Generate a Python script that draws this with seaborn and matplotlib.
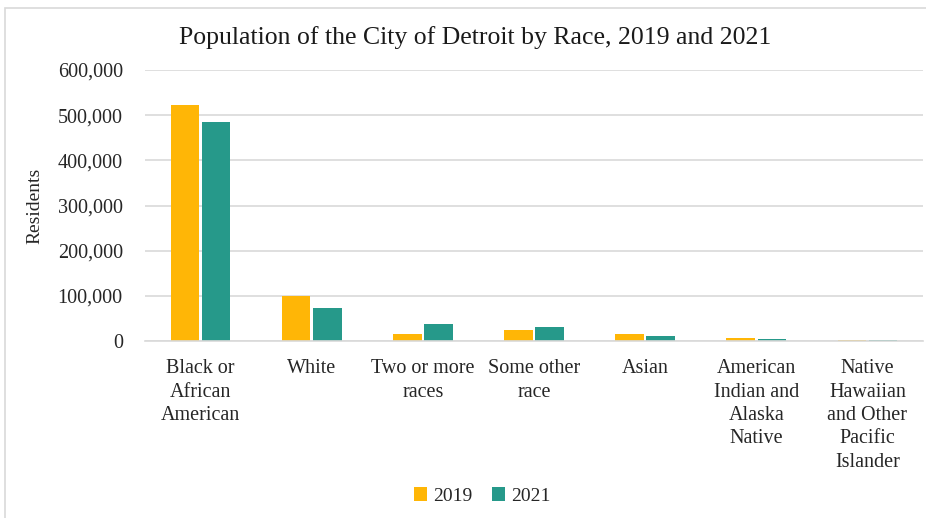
import matplotlib
matplotlib.use("Agg")
import matplotlib.pyplot as plt
from matplotlib.patches import Rectangle
from matplotlib.ticker import FuncFormatter
import seaborn as sns
import pandas as pd

categories = [
    "Black or\nAfrican\nAmerican",
    "White",
    "Two or more\nraces",
    "Some other\nrace",
    "Asian",
    "American\nIndian and\nAlaska\nNative",
    "Native\nHawaiian\nand Other\nPacific\nIslander",
]
residents_2019 = [522000, 100000, 15000, 24000, 14500, 6000, 2500]
residents_2021 = [485000, 72000, 37500, 30000, 11000, 4000, 3000]
years = ["2019", "2021"]
colors = ["#FFB606", "#26998A"]

df = pd.DataFrame({
    "Race": categories * 2,
    "Year": [years[0]] * len(categories) + [years[1]] * len(categories),
    "Residents": residents_2019 + residents_2021,
})

sns.set_theme(style="white")
plt.rcParams["font.family"] = ["Liberation Serif", "DejaVu Serif"]

fig = plt.figure(figsize=(9.26, 5.18), dpi=100)
ax = fig.add_axes([145 / 926, 1 - 341 / 518, (923 - 145) / 926, (341 - 70) / 518])

sns.barplot(data=df, x="Race", y="Residents", hue="Year", palette=colors,
            width=0.56, gap=0.08, ax=ax, linewidth=0, saturation=1)

ax.set_ylim(0, 600000)
ax.set_yticks(range(0, 600001, 100000))
ax.yaxis.set_major_formatter(FuncFormatter(lambda v, p: f"{int(v):,}"))
ax.set_xlim(-0.5, len(categories) - 0.5)
ax.grid(axis="y", color="#D9D9D9", linewidth=1.2)
ax.set_axisbelow(True)
for s in ["top", "right", "left"]:
    ax.spines[s].set_visible(False)
ax.spines["bottom"].set_color("#D9D9D9")
ax.spines["bottom"].set_linewidth(1.2)
ax.tick_params(axis="y", labelsize=14.5, colors="#262626", pad=16, length=0)
ax.tick_params(axis="x", labelsize=14.5, colors="#262626", pad=13, length=0)
for t in ax.get_xticklabels():
    t.set_linespacing(1.32)
ax.set_xlabel("")
ax.set_ylabel("Residents", fontsize=14, color="#262626", labelpad=10)

fig.suptitle("Population of the City of Detroit by Race, 2019 and 2021",
             fontsize=18.5, color="#1a1a1a", x=475 / 926, y=1 - 26 / 518, va="top")

handles, labels = ax.get_legend_handles_labels()
ax.legend_.remove()
fig.legend(handles, labels, loc="center", bbox_to_anchor=(482 / 926, 1 - 496 / 518), ncol=2,
           frameon=False, fontsize=14, handlelength=0.7, handleheight=0.7,
           handletextpad=0.3, columnspacing=1.0, labelcolor="#262626")

fig.patches.append(Rectangle((5 / 926, -0.1), 1.2, 1 - 8 / 518 + 0.1, transform=fig.transFigure,
                             fill=False, edgecolor="#D9D9D9", linewidth=1.2))

fig.savefig("out.png", dpi=100)
